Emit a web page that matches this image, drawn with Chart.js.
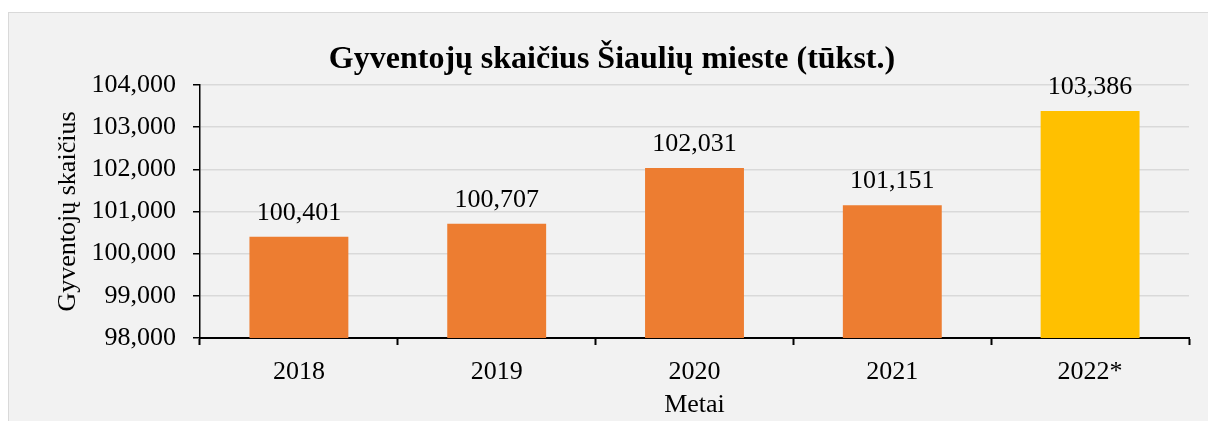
<!DOCTYPE html>
<html>
<head>
<meta charset="utf-8">
<script src="https://cdn.jsdelivr.net/npm/chart.js@4"></script>
<style>
  html, body { margin: 0; padding: 0; background: #ffffff; }
  #wrap { position: relative; width: 1208px; height: 421px; }
</style>
</head>
<body>
<div id="wrap"><canvas id="chart" width="1208" height="421"></canvas></div>
<script>
// Chart data
const years = ["2018", "2019", "2020", "2021", "2022*"];
const population = [100401, 100707, 102031, 101151, 103386];
const barColors = ["#ED7D31", "#ED7D31", "#ED7D31", "#ED7D31", "#FFC000"];
const yTicks = [98000, 99000, 100000, 101000, 102000, 103000, 104000];

const chartTitle = "Gyventojų skaičius Šiaulių mieste (tūkst.)";
const serif = "'Liberation Serif', 'Times New Roman', serif";

// Gray panel behind the chart
const panelPlugin = {
    id: "panel",
    beforeDraw(chart) {
        const ctx = chart.ctx;
        ctx.save();
        ctx.fillStyle = "#F2F2F2";
        ctx.fillRect(8, 12, 1200, 420);
        ctx.strokeStyle = "#D9D9D9";
        ctx.lineWidth = 1;
        ctx.strokeRect(8.5, 12.5, 1210, 420);
        ctx.restore();
    }
};

// Title and values above bars
const labelPlugin = {
    id: "valueLabels",
    afterDatasetsDraw(chart) {
        const ctx = chart.ctx;
        ctx.save();
        ctx.fillStyle = "#000";
        ctx.textAlign = "center";
        ctx.textBaseline = "alphabetic";
        ctx.font = "26px " + serif;
        chart.getDatasetMeta(0).data.forEach((bar, i) => {
            ctx.fillText(population[i].toLocaleString("en-US"), bar.x, bar.y - 17);
        });
        ctx.font = "bold 32px " + serif;
        ctx.fillText(chartTitle, 612, 68);
        ctx.restore();
    }
};

new Chart(document.getElementById("chart"), {
    type: "bar",
    data: {
        labels: years,
        datasets: [{
            data: population,
            backgroundColor: barColors,
            barPercentage: 0.5,
            categoryPercentage: 1.0
        }]
    },
    options: {
        responsive: false,
        animation: false,
        layout: { padding: { left: 8, top: 85, right: 19, bottom: 0 } },
        plugins: {
            legend: { display: false },
            title: { display: false },
            tooltip: { enabled: false }
        },
        scales: {
            x: {
                afterFit: (scale) => { scale.height = 83; },
                grid: {
                    display: true,
                    drawOnChartArea: false,
                    offset: true,
                    tickLength: 7,
                    tickColor: "#000",
                    tickWidth: 2
                },
                border: { color: "#000", width: 2 },
                ticks: {
                    color: "#000",
                    padding: 12,
                    font: { family: serif, size: 26 }
                },
                title: {
                    display: true,
                    text: "Metai",
                    color: "#000",
                    padding: { top: 0, bottom: 0 },
                    font: { family: serif, size: 26 }
                }
            },
            y: {
                min: 98000,
                max: 104000,
                afterFit: (scale) => { scale.width = 192; },
                afterBuildTicks: (scale) => { scale.ticks = yTicks.map(v => ({ value: v })); },
                grid: {
                    color: "#D9D9D9",
                    lineWidth: 1.5,
                    tickLength: 7,
                    tickColor: "#000",
                    tickWidth: 1.5
                },
                border: { color: "#000", width: 1.5 },
                ticks: {
                    color: "#000",
                    padding: 17,
                    font: { family: serif, size: 26 },
                    callback: (v) => v.toLocaleString("en-US")
                },
                title: {
                    display: true,
                    text: "Gyventojų skaičius",
                    color: "#000",
                    padding: { top: 45, bottom: 0 },
                    font: { family: serif, size: 26 }
                }
            }
        }
    },
    plugins: [panelPlugin, labelPlugin]
});
</script>
</body>
</html>
